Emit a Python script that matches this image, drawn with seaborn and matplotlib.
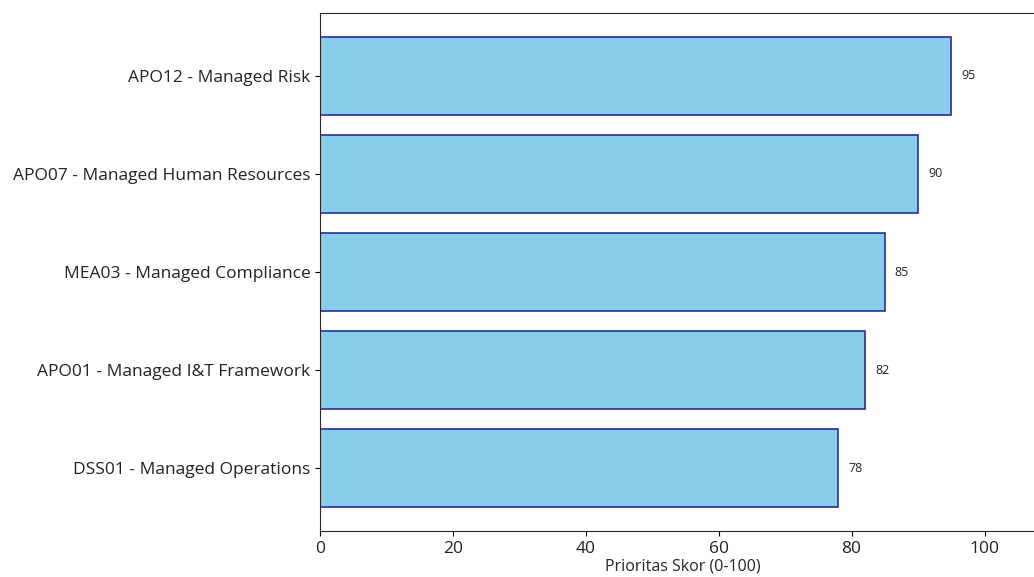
import matplotlib
matplotlib.use('Agg')
import matplotlib.pyplot as plt
import seaborn as sns
import pandas as pd

# Data
processes = ['APO12 - Managed Risk', 'APO07 - Managed Human Resources',
             'MEA03 - Managed Compliance', 'APO01 - Managed I&T Framework',
             'DSS01 - Managed Operations']
scores = [95, 90, 85, 82, 78]

df = pd.DataFrame({'Proses': processes, 'Skor': scores})

sns.set_style('ticks')
plt.rcParams['font.family'] = ['Open Sans', 'DejaVu Sans']

fig = plt.figure(figsize=(10.34, 5.77), dpi=100)
# axes deliberately extends past the right edge, like the reference crop
ax = fig.add_axes([320 / 1034, 1 - 531 / 577, 726 / 1034, 518 / 577])

sns.barplot(data=df, x='Skor', y='Proses', orient='h', color='skyblue',
            edgecolor='#2b2b9e', linewidth=1.2, width=0.8, saturation=1, ax=ax)

for i, v in enumerate(scores):
    ax.text(v + 1.5, i, f'{v}', va='center', fontsize=9, color='#222222')

ax.set_xlim(0, max(scores) * 1.15)
ax.set_ylim(len(scores) - 0.36, -0.64)
ax.set_xlabel('Prioritas Skor (0-100)', fontsize=11.5, labelpad=1)
ax.set_ylabel('')
ax.tick_params(axis='both', labelsize=12.5, colors='#222222')
ax.tick_params(axis='both', color='black')

plt.savefig('out.png', dpi=100)
